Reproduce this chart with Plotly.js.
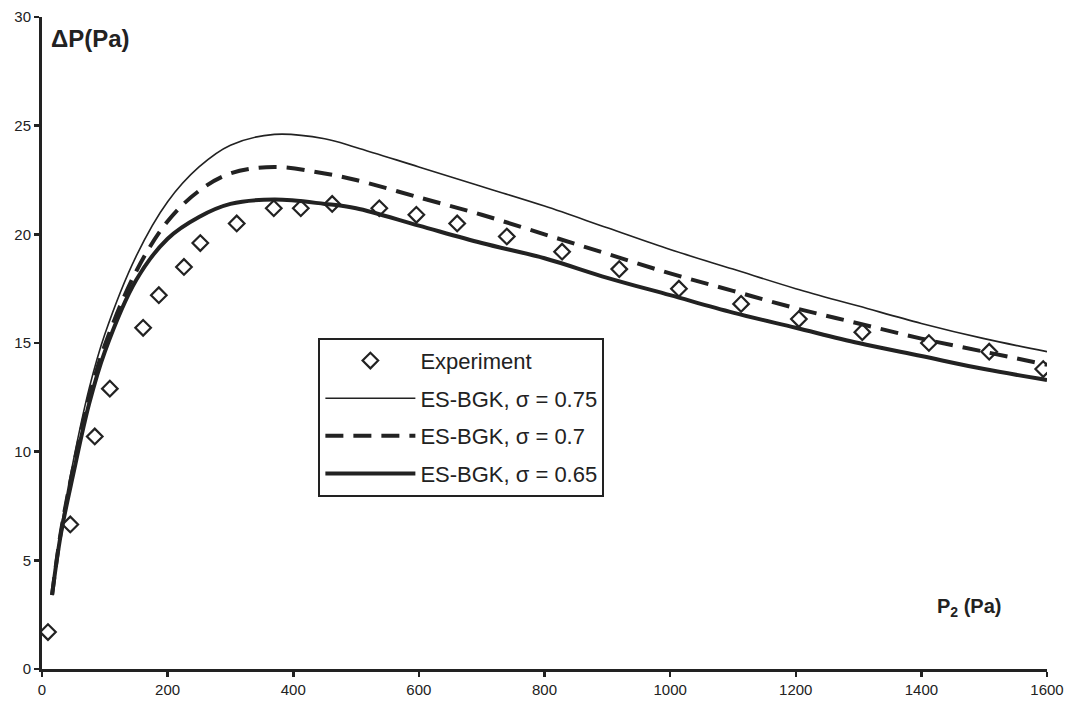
<!DOCTYPE html>
<html>
<head>
<meta charset="utf-8">
<script src="https://cdn.plot.ly/plotly-3.0.1.min.js"></script>
<style>html,body{margin:0;padding:0;background:#fff;}#chart{width:1078px;height:705px;}</style>
</head>
<body>
<div id="chart"></div>
<script>
// Experiment
const expX = [9.5, 45, 84, 108, 161, 186, 226, 252, 310, 369, 412, 462, 537, 596, 661, 740, 828, 919, 1014, 1113, 1205, 1306, 1412, 1508, 1594];
const expY = [1.7, 6.65, 10.7, 12.9, 15.7, 17.2, 18.5, 19.6, 20.5, 21.2, 21.2, 21.4, 21.2, 20.9, 20.5, 19.9, 19.2, 18.4, 17.5, 16.8, 16.1, 15.5, 15.0, 14.6, 13.8];

// Model curves
const simX = [16, 30, 50, 75, 100, 150, 200, 250, 300, 370, 450, 500, 600, 700, 800, 900, 1000, 1100, 1200, 1300, 1400, 1500, 1600];
const sig075 = [3.4, 6.4, 9.6, 12.9, 15.4, 19.0, 21.5, 23.1, 24.1, 24.6, 24.4, 24.0, 23.1, 22.2, 21.3, 20.3, 19.3, 18.4, 17.5, 16.7, 15.9, 15.2, 14.6];
const sig070 = [3.4, 6.3, 9.3, 12.5, 14.9, 18.3, 20.6, 22.0, 22.8, 23.1, 22.8, 22.5, 21.7, 20.9, 20.0, 19.1, 18.2, 17.4, 16.6, 15.9, 15.2, 14.6, 14.0];
const sig065 = [3.4, 6.2, 9.0, 12.2, 14.6, 17.9, 19.8, 20.8, 21.4, 21.6, 21.4, 21.2, 20.4, 19.6, 18.9, 18.0, 17.2, 16.4, 15.7, 15.0, 14.4, 13.8, 13.3];

const names = ["Experiment", "ES-BGK, σ = 0.75", "ES-BGK, σ = 0.7", "ES-BGK, σ = 0.65"];
const xTicks = [0, 200, 400, 600, 800, 1000, 1200, 1400, 1600];
const yTicks = [0, 5, 10, 15, 20, 25, 30];

const ink = '#222';
const traces = [
  {x: expX, y: expY, name: names[0], legendgroup: 'a', mode: 'markers', type: 'scatter',
   marker: {symbol: 'diamond-open', size: 12, color: ink, line: {width: 2.2, color: ink}}},
  {x: simX, y: sig075, name: names[1], legendgroup: 'b', mode: 'lines', type: 'scatter', line: {color: ink, width: 1.6, shape: 'spline'}},
  {x: simX, y: sig070, name: names[2], legendgroup: 'c', mode: 'lines', type: 'scatter', line: {color: ink, width: 4, dash: '18px,10px', shape: 'spline'}},
  {x: simX, y: sig065, name: names[3], legendgroup: 'd', mode: 'lines', type: 'scatter', line: {color: ink, width: 4, shape: 'spline'}}
];

const tickFont = {family: 'Liberation Sans, Arial, sans-serif', size: 15, color: ink};
const layout = {
  width: 1078, height: 705,
  margin: {l: 42, r: 31, t: 17, b: 36},
  paper_bgcolor: '#fff', plot_bgcolor: '#fff',
  showlegend: true,
  legend: {x: 0.275, y: 0.508, xanchor: 'left', yanchor: 'top',
    bgcolor: '#fff', bordercolor: ink, borderwidth: 2,
    font: {family: 'Liberation Sans, Arial, sans-serif', size: 22, color: ink},
    tracegroupgap: 6, itemwidth: 90},
  xaxis: {range: [0, 1600], tickvals: xTicks, ticktext: xTicks.map(String),
    showgrid: false, zeroline: false, showline: true, linecolor: ink, linewidth: 3,
    ticks: 'outside', ticklen: 5, tickwidth: 2.5, tickcolor: ink, tickfont: tickFont},
  yaxis: {range: [0, 30], tickvals: yTicks, ticktext: yTicks.map(String),
    showgrid: false, zeroline: false, showline: true, linecolor: ink, linewidth: 3,
    ticks: 'outside', ticklen: 5, tickwidth: 2.5, tickcolor: ink, tickfont: tickFont},
  annotations: [
    {text: '<b>ΔP(Pa)</b>', xref: 'paper', yref: 'paper', x: 0.007, y: 0.967, xanchor: 'left', yanchor: 'middle',
     showarrow: false, font: {family: 'Liberation Sans, Arial, sans-serif', size: 24, color: ink}},
    {text: '<b>P<sub>2</sub> (Pa)</b>', xref: 'paper', yref: 'paper', x: 0.889, y: 0.095, xanchor: 'left', yanchor: 'middle',
     showarrow: false, font: {family: 'Liberation Sans, Arial, sans-serif', size: 20, color: ink}}
  ]
};

Plotly.newPlot('chart', traces, layout, {displayModeBar: false, staticPlot: true});
</script>
</body>
</html>
